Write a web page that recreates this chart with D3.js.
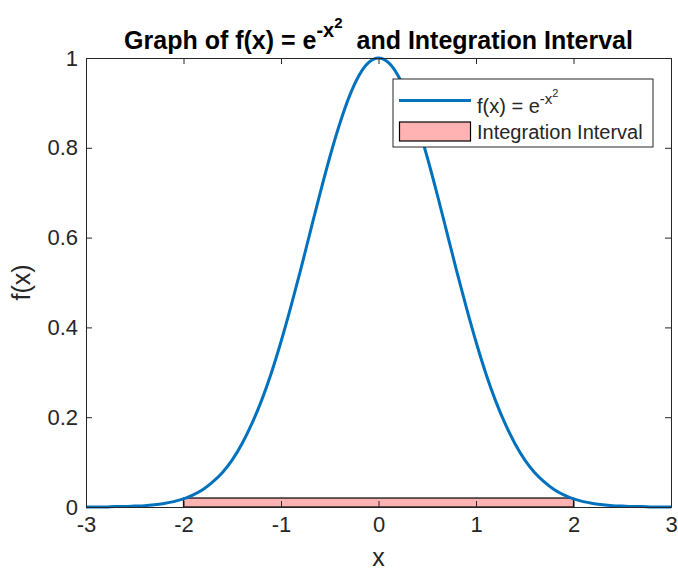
<!DOCTYPE html>
<html><head><meta charset="utf-8">
<script src="https://cdn.jsdelivr.net/npm/d3@7/dist/d3.min.js"></script>
<style>body{margin:0;background:#fff}svg{display:block}text{font-family:"Liberation Sans",Arial,Helvetica,sans-serif}</style>
</head><body>
<script>
const xValues = [-3.0,-2.9,-2.8,-2.7,-2.6,-2.5,-2.4,-2.3,-2.2,-2.1,-2.0,-1.9,-1.8,-1.7,-1.6,-1.5,-1.4,-1.3,-1.2,-1.1,-1.0,-0.9,-0.8,-0.7,-0.6,-0.5,-0.4,-0.3,-0.2,-0.1,0.0,0.1,0.2,0.3,0.4,0.5,0.6,0.7,0.8,0.9,1.0,1.1,1.2,1.3,1.4,1.5,1.6,1.7,1.8,1.9,2.0,2.1,2.2,2.3,2.4,2.5,2.6,2.7,2.8,2.9,3.0];
const fValues = [0.000,0.000,0.000,0.001,0.001,0.002,0.003,0.005,0.008,0.012,0.018,0.027,0.039,0.056,0.077,0.105,0.141,0.185,0.237,0.298,0.368,0.445,0.527,0.613,0.698,0.779,0.852,0.914,0.961,0.990,1.000,0.990,0.961,0.914,0.852,0.779,0.698,0.613,0.527,0.445,0.368,0.298,0.237,0.185,0.141,0.105,0.077,0.056,0.039,0.027,0.018,0.012,0.008,0.005,0.003,0.002,0.001,0.001,0.000,0.000,0.000];
const intervalX = [-2, 2];
const intervalY = [0, 0.02];
const xTicks = [-3,-2,-1,0,1,2,3];
const xTickLabels = ["-3","-2","-1","0","1","2","3"];
const yTicks = [0,0.2,0.4,0.6,0.8,1];
const yTickLabels = ["0","0.2","0.4","0.6","0.8","1"];
const xDomain = [-3, 3];
const yDomain = [0, 1];

const W = 678, H = 571;
const L = 86, R = 671, T = 58, B = 507;
const axisColor = "#262626";
const svg = d3.select("body").append("svg").attr("width", W).attr("height", H);

const x = d3.scaleLinear().domain(xDomain).range([L, R]);
const y = d3.scaleLinear().domain(yDomain).range([B, T]);

// rectangle
svg.append("rect")
  .attr("x", x(intervalX[0])).attr("y", y(intervalY[1]))
  .attr("width", x(intervalX[1]) - x(intervalX[0]))
  .attr("height", y(intervalY[0]) - y(intervalY[1]))
  .attr("fill", "#ffb3b3").attr("stroke", "#000").attr("stroke-width", 1.2);

// curve
const pts = xValues.map((v, i) => [v, fValues[i]]);
svg.append("path").datum(pts)
  .attr("d", d3.line().x(d => x(d[0])).y(d => y(d[1])).curve(d3.curveMonotoneX))
  .attr("fill", "none").attr("stroke", "#0072BD").attr("stroke-width", 3).attr("stroke-linejoin", "round");

// axes
const tickLen = 6;
const gx = svg.append("g").attr("transform", `translate(0,${B})`)
  .call(d3.axisBottom(x).tickValues(xTicks).tickSize(-tickLen).tickPadding(9).tickFormat((d, i) => xTickLabels[i]));
const gxt = svg.append("g").attr("transform", `translate(0,${T})`)
  .call(d3.axisTop(x).tickValues(xTicks).tickSize(-tickLen).tickFormat(""));
const gy = svg.append("g").attr("transform", `translate(${L},0)`)
  .call(d3.axisLeft(y).tickValues(yTicks).tickSize(-tickLen).tickPadding(8).tickFormat((d, i) => yTickLabels[i]));
const gyr = svg.append("g").attr("transform", `translate(${R},0)`)
  .call(d3.axisRight(y).tickValues(yTicks).tickSize(-tickLen).tickFormat(""));
[gx, gxt, gy, gyr].forEach(g => {
  g.select(".domain").attr("stroke", axisColor).attr("stroke-width", 1);
  g.selectAll(".tick line").attr("stroke", axisColor).attr("stroke-width", 1);
  g.selectAll(".tick text").attr("fill", axisColor).style("font-size", "22px");
});

// labels
svg.append("text").attr("x", (L + R) / 2).attr("y", 566).attr("text-anchor", "middle")
  .attr("fill", axisColor).style("font-size", "25px").text("x");
svg.append("text").attr("transform", `translate(30,${(T + B) / 2}) rotate(-90)`).attr("text-anchor", "middle")
  .attr("fill", axisColor).style("font-size", "25px").text("f(x)");

// title
const title = svg.append("text").attr("x", (L + R) / 2).attr("y", 49).attr("text-anchor", "middle")
  .attr("fill", "#000").style("font-size", "25px").style("font-weight", "bold");
title.append("tspan").text("Graph of f(x) = e");
title.append("tspan").attr("dy", -12).style("font-size", "20px").text("-x");
title.append("tspan").attr("dy", -9).style("font-size", "15px").text("2");
title.append("tspan").attr("dy", 21).text("\u00a0 and Integration Interval");

// legend
const lg = svg.append("g");
lg.append("rect").attr("x", 393).attr("y", 79).attr("width", 260).attr("height", 68)
  .attr("fill", "#fff").attr("stroke", axisColor).attr("stroke-width", 1);
lg.append("line").attr("x1", 399).attr("x2", 471).attr("y1", 100.5).attr("y2", 100.5)
  .attr("stroke", "#0072BD").attr("stroke-width", 3);
lg.append("rect").attr("x", 399.5).attr("y", 122).attr("width", 71).attr("height", 19)
  .attr("fill", "#ffb3b3").attr("stroke", "#000").attr("stroke-width", 1.2);
const t1 = lg.append("text").attr("x", 477).attr("y", 113).attr("fill", axisColor).style("font-size", "20px");
t1.append("tspan").text("f(x) = e");
t1.append("tspan").attr("dy", -9).style("font-size", "15px").text("-x");
t1.append("tspan").attr("dy", -7).style("font-size", "11px").text("2");
lg.append("text").attr("x", 477).attr("y", 139).attr("fill", axisColor).style("font-size", "20px").text("Integration Interval");
</script>
</body></html>
